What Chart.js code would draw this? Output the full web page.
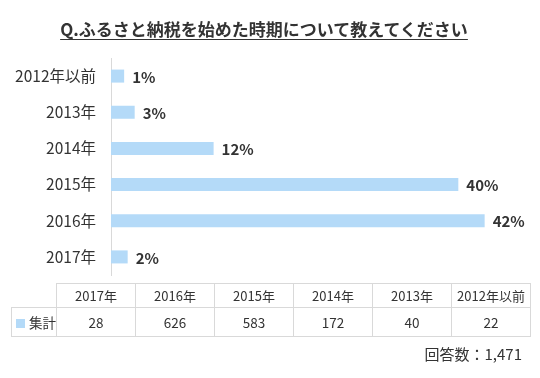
<!DOCTYPE html>
<html>
<head>
<meta charset="utf-8">
<script src="https://cdn.jsdelivr.net/npm/chart.js@4"></script>
<style>
  html, body { margin:0; padding:0; background:#fff; }
  body { width:540px; height:378px; position:relative; overflow:hidden;
         font-family:"Noto Sans CJK JP","Noto Sans",sans-serif; color:#333; }
  #title { position:absolute; left:0; top:16px; width:528px; text-align:center;
           font-size:17px; font-weight:bold; }
  #title span { text-decoration:underline; text-underline-offset:3px; }
  #wrap { position:absolute; left:0; top:0; width:540px; height:378px; }
  table { position:absolute; left:11px; top:283px; border-collapse:collapse;
          table-layout:fixed; font-size:13px; color:#333; }
  td { border:1px solid #d9d9d9; text-align:center; padding:0; }
  tr.h td { height:23px; }
  tr.d td { height:28px; font-size:13.5px; }
  td.corner { border-top:none; border-left:none; }
  .sw { display:inline-block; width:9px; height:9px; background:#b4daf8; margin-right:4px; vertical-align:0px; }
  #footer { position:absolute; right:18px; top:343px; font-size:15px; color:#333; }
</style>
</head>
<body>
<div id="wrap"><canvas id="c" width="540" height="378"></canvas></div>
<div id="title"><span>Q.ふるさと納税を始めた時期について教えてください</span></div>
<table id="tbl"></table>
<div id="footer">回答数：1,471</div>
<script>
const categories = ["2017年","2016年","2015年","2014年","2013年","2012年以前"];
const counts = [28, 626, 583, 172, 40, 22];
const percents = [1.9, 42.6, 39.6, 11.7, 2.7, 1.5];
const percentLabels = ["2%","42%","40%","12%","3%","1%"];
const seriesName = "集計";
const totalLabel = "回答数：1,471";
const barColor = "#b4daf8";

document.getElementById('footer').textContent = totalLabel;

// data table
const tbl = document.getElementById('tbl');
let h = '<colgroup><col style="width:44px">' + categories.map(()=>'<col style="width:79px">').join('') + '</colgroup>';
h += '<tr class="h"><td class="corner"></td>' + categories.map(c=>'<td>'+c+'</td>').join('') + '</tr>';
h += '<tr class="d"><td style="text-align:left;padding-left:4px;white-space:nowrap"><span class="sw"></span>' + seriesName + '</td>' +
     counts.map(v=>'<td>'+v+'</td>').join('') + '</tr>';
tbl.innerHTML = h;

const labelPlugin = {
  id: 'valueLabels',
  afterDatasetsDraw(chart) {
    const ctx = chart.ctx;
    const meta = chart.getDatasetMeta(0);
    ctx.save();
    ctx.font = 'bold 15px "Noto Sans CJK JP","Noto Sans",sans-serif';
    ctx.fillStyle = '#333';
    ctx.textAlign = 'left';
    ctx.textBaseline = 'middle';
    meta.data.forEach((bar, i) => {
      ctx.fillText(percentLabels[i], bar.x + 8, bar.y + 1);
    });
    ctx.restore();
  }
};

new Chart(document.getElementById('c'), {
  type: 'bar',
  data: {
    labels: categories,
    datasets: [{
      label: seriesName,
      data: percents,
      backgroundColor: barColor,
      borderWidth: 0,
      categoryPercentage: 1,
      barPercentage: 0.36
    }]
  },
  options: {
    indexAxis: 'y',
    responsive: false,
    animation: false,
    layout: { padding: { left: 0, right: 8, top: 58, bottom: 103 } },
    plugins: { legend: { display: false }, tooltip: { enabled: false }, title: { display: false } },
    scales: {
      x: { display: false, min: 0, max: 48 },
      y: {
        reverse: true,
        grid: { display: false, drawTicks: false },
        border: { display: true, color: '#d9d9d9', width: 1 },
        ticks: { color: '#333', padding: 15, font: { size: 15.5, family: '"Noto Sans CJK JP","Noto Sans",sans-serif' } },
        afterFit(scale) { scale.width = 111; }
      }
    }
  },
  plugins: [labelPlugin]
});
</script>
</body>
</html>
